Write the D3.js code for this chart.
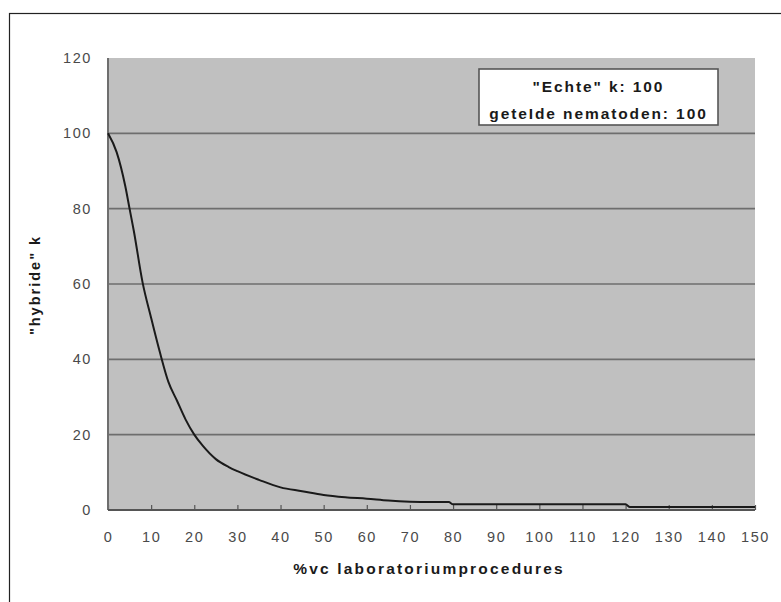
<!DOCTYPE html>
<html>
<head>
    <title>hybride k</title>
    <script src="https://d3js.org/d3.v7.min.js"></script>
    <style>
        body { margin: 0; background: #fff; }
        text { font-family: Arial, "Liberation Sans", sans-serif; }
    </style>
</head>
<body>
    <svg width="781" height="602"></svg>
    <script>
        // values
        var pct = [0, 2, 4, 5, 6, 8, 10, 12, 14, 16, 18, 20, 22, 25, 28, 30, 35, 40, 45, 50, 55, 60, 65, 70, 75, 79, 80, 120, 121, 150];
        var hybrideK = [100, 95, 86, 80, 74, 60.5, 51, 42, 34, 29, 24, 20, 17, 13.5, 11.4, 10.3, 8, 6, 5, 4, 3.4, 3, 2.5, 2.2, 2.1, 2.1, 1.5, 1.5, 0.8, 0.8];
        var xTicks = d3.range(0, 151, 10);
        var yTicks = [0, 20, 40, 60, 80, 100, 120];
        var legendLines = ["\"Echte\" k: 100", "geteIde nematoden: 100"];

        var svg = d3.select("svg");

        // outer frame
        svg.append("rect")
            .attr("x", 9.5).attr("y", 13.5)
            .attr("width", 800).attr("height", 620)
            .attr("fill", "none").attr("stroke", "#222").attr("stroke-width", 1.2);

        var x = d3.scaleLinear().domain([0, 150]).range([108, 755]);
        var y = d3.scaleLinear().domain([0, 120]).range([510, 58]);

        // plot background
        svg.append("rect")
            .attr("x", x(0)).attr("y", y(120))
            .attr("width", x(150) - x(0)).attr("height", y(0) - y(120))
            .attr("fill", "#c0c0c0");

        // gridlines
        svg.selectAll(".grid")
            .data(yTicks.filter(function(d) { return d > 0 && d < 120; }))
            .enter().append("line")
            .attr("class", "grid")
            .attr("x1", x(0)).attr("x2", x(150))
            .attr("y1", function(d) { return y(d); })
            .attr("y2", function(d) { return y(d); })
            .attr("stroke", "#6e6e6e").attr("stroke-width", 1.6);

        // y axis (labels only, line drawn separately)
        var yAxis = svg.append("g")
            .attr("transform", "translate(" + x(0) + ",0)")
            .call(d3.axisLeft(y).tickValues(yTicks).tickSize(0).tickPadding(16));
        yAxis.select(".domain").remove();
        yAxis.selectAll("text")
            .attr("fill", "#4a4a4a").style("font-size", "14.5px").style("letter-spacing", "1.6px");

        // x axis with inside ticks
        var xAxis = svg.append("g")
            .attr("transform", "translate(0," + y(0) + ")")
            .call(d3.axisBottom(x).tickValues(xTicks).tickSize(-5).tickPadding(22));
        xAxis.select(".domain").remove();
        xAxis.selectAll("line").attr("stroke", "#555").attr("stroke-width", 1.2);
        xAxis.selectAll("text")
            .attr("fill", "#4a4a4a").style("font-size", "14.5px").style("letter-spacing", "1.6px");

        // axis lines
        svg.append("line")
            .attr("x1", x(0)).attr("x2", x(0)).attr("y1", y(120)).attr("y2", y(0))
            .attr("stroke", "#6e6e6e").attr("stroke-width", 2);
        svg.append("line")
            .attr("x1", x(0)).attr("x2", x(150)).attr("y1", y(0)).attr("y2", y(0))
            .attr("stroke", "#555").attr("stroke-width", 2);

        // the curve
        var pts = pct.map(function(d, i) { return [d, hybrideK[i]]; });
        svg.append("path")
            .datum(pts)
            .attr("fill", "none")
            .attr("stroke", "#1a1a1a")
            .attr("stroke-width", 2)
            .attr("d", d3.line()
                .x(function(d) { return x(d[0]); })
                .y(function(d) { return y(d[1]); })
                .curve(d3.curveMonotoneX));

        // legend box
        svg.append("rect")
            .attr("x", 479).attr("y", 69)
            .attr("width", 239).attr("height", 56)
            .attr("fill", "#fff").attr("stroke", "#555").attr("stroke-width", 1.6);
        svg.selectAll(".leg")
            .data(legendLines)
            .enter().append("text")
            .attr("class", "leg")
            .attr("x", 598.5)
            .attr("y", function(d, i) { return 92 + i * 27; })
            .attr("text-anchor", "middle")
            .attr("fill", "#1a1a1a")
            .style("font-size", "15.5px").style("font-weight", "bold").style("letter-spacing", "1.9px")
            .text(function(d) { return d; });

        // axis titles
        svg.append("text")
            .attr("x", 429).attr("y", 574)
            .attr("text-anchor", "middle")
            .attr("fill", "#1a1a1a")
            .style("font-size", "15.5px").style("font-weight", "bold").style("letter-spacing", "2.2px")
            .text("%vc laboratoriumprocedures");
        svg.append("text")
            .attr("transform", "translate(40,285) rotate(-90)")
            .attr("text-anchor", "middle")
            .attr("fill", "#1a1a1a")
            .style("font-size", "14.5px").style("font-weight", "bold").style("letter-spacing", "2px")
            .text("\"hybride\" k");
    </script>
</body>
</html>
